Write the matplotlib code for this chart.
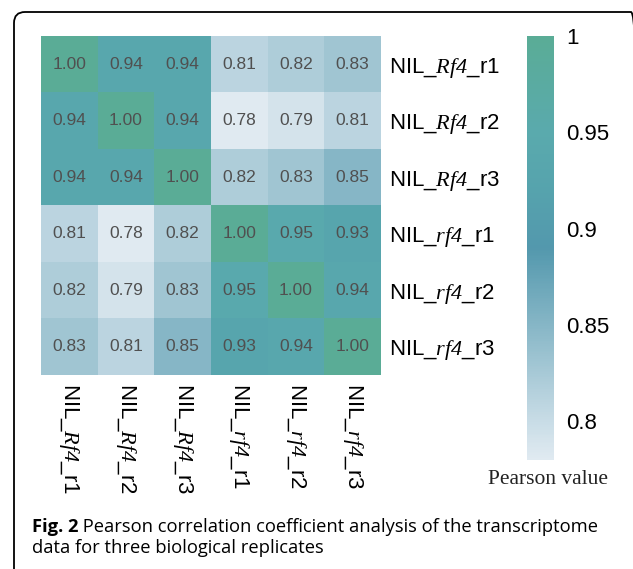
import numpy as np
import matplotlib
matplotlib.use("Agg")
import matplotlib.pyplot as plt
from matplotlib.colors import LinearSegmentedColormap
from matplotlib.patches import FancyBboxPatch
from matplotlib.transforms import IdentityTransform

plt.rcParams['font.family'] = ['Liberation Sans', 'DejaVu Sans']
plt.rcParams['mathtext.fontset'] = 'custom'
plt.rcParams['mathtext.rm'] = 'Liberation Sans'
# \mathsf is used for the italic serif line names (digits stay italic there)
plt.rcParams['mathtext.sf'] = 'Liberation Serif:italic'

# data
lines = ["Rf4", "Rf4", "Rf4", "rf4", "rf4", "rf4"]
reps = ["r1", "r2", "r3", "r1", "r2", "r3"]
row1 = [1.00, 0.94, 0.94, 0.81, 0.82, 0.83]
row2 = [0.94, 1.00, 0.94, 0.78, 0.79, 0.81]
row3 = [0.94, 0.94, 1.00, 0.82, 0.83, 0.85]
row4 = [0.81, 0.78, 0.82, 1.00, 0.95, 0.93]
row5 = [0.82, 0.79, 0.83, 0.95, 1.00, 0.94]
row6 = [0.83, 0.81, 0.85, 0.93, 0.94, 1.00]
cb_ticks = [0.8, 0.85, 0.9, 0.95, 1.0]
cb_labels = ["0.8", "0.85", "0.9", "0.95", "1"]

vals = np.array([row1, row2, row3, row4, row5, row6])
labels = ["NIL_$\\mathsf{%s}$_%s" % (l, r) for l, r in zip(lines, reps)]

# colour ramp, light blue -> blue teal -> green teal
vmin, vmax = 0.78, 1.0
nodes = [(0.78, "#e0eaf1"), (0.80, "#c8dce6"), (0.85, "#86b6c6"),
         (0.89, "#5398ad"), (0.92, "#56a3ad"), (0.95, "#5aaaad"),
         (1.00, "#5aac96")]
cmap = LinearSegmentedColormap.from_list(
    "pearson", [((v - vmin) / (vmax - vmin), c) for v, c in nodes])

W, H = 633, 569
fig = plt.figure(figsize=(W / 100, H / 100), dpi=100)

ax = fig.add_axes([41 / W, 1 - 375 / H, 340 / W, 339 / H])
im = ax.imshow(vals, cmap=cmap, vmin=vmin, vmax=vmax, aspect="auto")
for i in range(vals.shape[0]):
    for j in range(vals.shape[1]):
        ax.text(j, i, "%.2f" % vals[i, j], ha="center", va="center",
                fontsize=12.5, color="#505050")

ax.set_xticks(range(6))
ax.set_xticklabels(labels, rotation=-90, fontsize=16)
ax.yaxis.tick_right()
ax.set_yticks(range(6))
ax.set_yticklabels(labels, fontsize=16)
ax.tick_params(length=0, pad=6)
for s in ax.spines.values():
    s.set_visible(False)

cax = fig.add_axes([527 / W, 1 - 460 / H, 27 / W, 424 / H])
cb = fig.colorbar(im, cax=cax, ticks=cb_ticks)
cb.set_ticklabels(cb_labels)
cb.outline.set_visible(False)
cax.tick_params(length=0, pad=9, labelsize=16)

fig.text(548 / W, 1 - 484 / H, "Pearson value", family="Liberation Serif",
         fontsize=15.5, ha="center", va="baseline", color="#222222")

# caption
fig_lbl = fig.text(32 / W, 1 - 536 / H, "Fig. 2", family="Open Sans",
                   fontweight="bold", fontsize=13.2, va="bottom")
ax.annotate(" Pearson correlation coefficient analysis of the transcriptome",
            xy=(1, 0), xycoords=fig_lbl, family="Open Sans", fontsize=13.2,
            va="bottom", ha="left", annotation_clip=False)
fig.text(32 / W, 1 - 553 / H, "data for three biological replicates",
         family="Open Sans", fontsize=13.2, va="baseline")

# frame around the figure panel, its right side runs off the picture
frame = FancyBboxPatch((14, -40), 628, H - 12 + 40,
                       boxstyle="round,pad=0,rounding_size=11",
                       fill=False, edgecolor="black", linewidth=1.3,
                       transform=IdentityTransform())
fig.patches.append(frame)

fig.savefig("out.png", dpi=100)
